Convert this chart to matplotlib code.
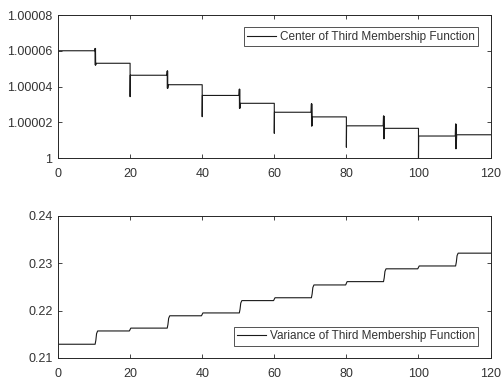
import numpy as np
import matplotlib
matplotlib.use("Agg")
import matplotlib.pyplot as plt
from matplotlib.ticker import FuncFormatter

plt.rcParams['font.family'] = ['Liberation Sans', 'DejaVu Sans']
plt.rcParams['font.size'] = 9

# switching instants
switch_t = [10, 20, 30, 40, 50, 60, 70, 80, 90, 100, 110]
t_end = 120

# centre of third membership function (levels between switches)
center_lvl = [1.00006, 1.000053, 1.0000463, 1.000041, 1.000035, 1.0000306,
              1.0000256, 1.000023, 1.000018, 1.0000166, 1.0000123, 1.000013]
# transient excursions at each switch
center_hi = [1.0000613, 1.000053, 1.0000487, 1.000041, 1.0000385, 1.0000306,
             1.0000303, 1.000023, 1.0000235, 1.0000166, 1.000019]
center_lo = [1.000052, 1.0000343, 1.000039, 1.0000231, 1.0000278, 1.0000138,
             1.0000179, 1.000006, 1.0000108, 0.9999995, 1.0000052]

# variance of third membership function
var_lvl = [0.2129, 0.2157, 0.2163, 0.2189, 0.2195, 0.2221,
           0.2227, 0.2254, 0.2261, 0.2288, 0.2294, 0.2321]


def center_curve():
    xs, ys = [0], [center_lvl[0]]
    for i, t in enumerate(switch_t):
        prev, new = center_lvl[i], center_lvl[i + 1]
        if i % 2 == 0:
            xs += [t + 0.2, t + 0.3, t + 0.35, t + 0.4, t + 0.45, t + 0.6]
            ys += [prev, center_hi[i], center_lo[i], center_hi[i], center_lo[i], new]
        else:
            xs += [t, t, t + 0.05]
            ys += [prev, center_lo[i], new]
    xs.append(t_end)
    ys.append(center_lvl[-1])
    return xs, ys


def var_curve():
    xs, ys = [0], [var_lvl[0]]
    for i, t in enumerate(switch_t):
        prev, new = var_lvl[i], var_lvl[i + 1]
        if i % 2 == 0:
            xs += [t + 0.3, t + 0.5, t + 0.7, t + 1.0]
            ys += [prev, prev + 0.3 * (new - prev), prev + 0.8 * (new - prev), new]
        else:
            xs += [t - 0.2, t + 0.2]
            ys += [prev, new]
    xs.append(t_end)
    ys.append(var_lvl[-1])
    return xs, ys


fig = plt.figure(figsize=(5.03, 3.80), dpi=100)
ax1 = fig.add_axes([0.1153, 0.5842, 0.860, 0.3763])
ax2 = fig.add_axes([0.1153, 0.0579, 0.860, 0.3745])

edge = '#262626'
txt_c = '#333333'
line_c = '#1a1a1a'
leg_kw = dict(fontsize=8.5, frameon=True, fancybox=False, edgecolor=edge,
              handlelength=2.45, handletextpad=0.3, borderpad=0.3,
              borderaxespad=1.05, labelcolor=txt_c)

x, y = center_curve()
ax1.plot(x, y, color=line_c, lw=0.8, label='Center of Third Membership Function')
ax1.set_xlim(0, 120)
ax1.set_ylim(1.0, 1.00008)
ax1.set_yticks([1.0, 1.00002, 1.00004, 1.00006, 1.00008])
ax1.yaxis.set_major_formatter(FuncFormatter(lambda v, _: f'{v:.6g}'))
ax1.legend(loc='upper right', **leg_kw)

x, y = var_curve()
ax2.plot(x, y, color=line_c, lw=0.8, label='Variance of Third Membership Function')
ax2.set_xlim(0, 120)
ax2.set_ylim(0.21, 0.24)
ax2.set_yticks([0.21, 0.22, 0.23, 0.24])
ax2.legend(loc='lower right', **leg_kw)

for ax in (ax1, ax2):
    ax.set_xticks(range(0, 121, 20))
    ax.tick_params(direction='in', top=True, right=True, length=3,
                   color=edge, labelcolor=txt_c, width=0.6)
    ax.tick_params(axis='x', pad=7)
    ax.tick_params(axis='y', pad=4)
    for s in ax.spines.values():
        s.set_color(edge)
        s.set_linewidth(0.7)
    ax.get_legend().get_frame().set_linewidth(0.7)

fig.savefig('out.png', dpi=100)
